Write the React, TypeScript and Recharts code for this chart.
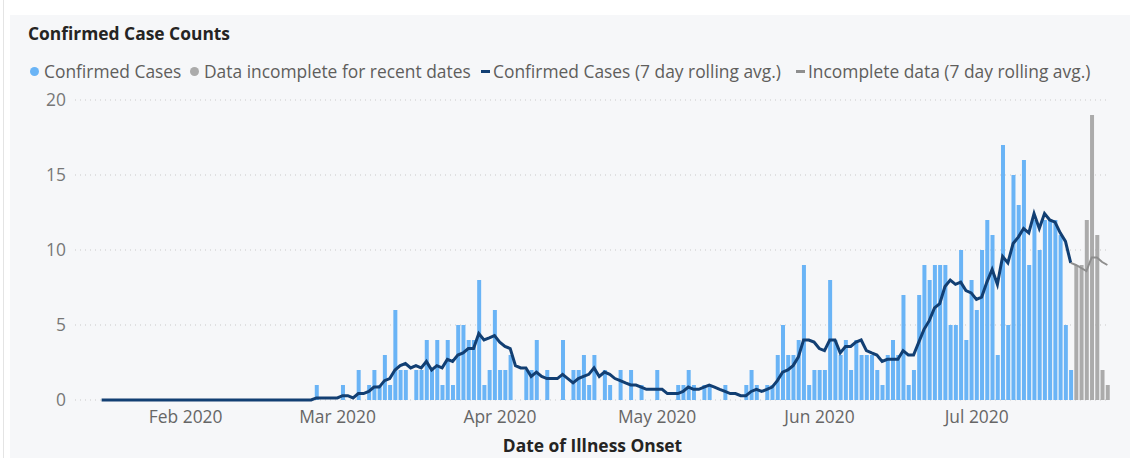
import React from 'react';
import { ComposedChart, Bar, Line, XAxis, YAxis, CartesianGrid } from 'recharts';

const startDate = '2020-01-15';
const dayCount = 193;

// Confirmed cases per day from 2020-01-15 through 2020-07-18
const confirmedCases = [
  0,
  0, 0, 0, 0, 0, 0, 0, 0, 0, 0,
  0, 0, 0, 0, 0, 0, 0, 0, 0, 0,
  0, 0, 0, 0, 0, 0, 0, 0, 0, 0,
  0, 0, 0, 0, 0, 0, 0, 0, 0, 0,
  1, 0, 0, 0, 0, 1, 0, 0, 2, 0,
  1, 2, 1, 3, 1, 6, 2, 2, 0, 2,
  2, 4, 2, 4, 1, 4, 1, 5, 5, 4,
  4, 8, 1, 2, 6, 2, 2, 3, 0, 0,
  2, 2, 4, 0, 2, 0, 0, 4, 0, 2,
  2, 3, 1, 3, 0, 2, 1, 0, 2, 0,
  2, 0, 1, 0, 0, 2, 0, 0, 0, 1,
  1, 2, 1, 0, 1, 1, 0, 0, 1, 0,
  0, 0, 1, 2, 1, 0, 1, 1, 3, 5,
  3, 3, 4, 9, 1, 2, 2, 2, 8, 4,
  3, 4, 2, 4, 3, 3, 3, 2, 1, 3,
  4, 3, 7, 1, 2, 7, 9, 8, 9, 9,
  9, 5, 5, 10, 4, 8, 6, 10, 12, 11,
  3, 17, 5, 15, 13, 16, 9, 12, 10, 12,
  12, 12, 11, 5, 2,
];

// Recent days with incomplete data (2020-07-19 .. 2020-07-25)
const incompleteStart = '2020-07-19';
const incompleteCases = [9, 9, 12, 19, 11, 2, 1];

// 7 day rolling average, 2020-01-15 .. 2020-07-18
const rollingAvg = [
  0,
  0, 0, 0, 0, 0, 0, 0, 0, 0, 0,
  0, 0, 0, 0, 0, 0, 0, 0, 0, 0,
  0, 0, 0, 0, 0, 0, 0, 0, 0, 0,
  0, 0, 0, 0, 0, 0, 0, 0, 0, 0,
  0.14, 0.14, 0.14, 0.14, 0.14, 0.29, 0.29, 0.14, 0.43, 0.43,
  0.57, 0.86, 0.86, 1.29, 1.43, 2.0, 2.29, 2.43, 2.14, 2.29,
  2.14, 2.57, 2.0, 2.29, 2.14, 2.71, 2.57, 3.0, 3.14, 3.43,
  3.43, 4.43, 4.0, 4.14, 4.29, 3.86, 3.57, 3.43, 2.29, 2.14,
  2.14, 1.57, 1.86, 1.57, 1.43, 1.43, 1.43, 1.71, 1.43, 1.14,
  1.43, 1.57, 1.71, 2.14, 1.57, 1.86, 1.71, 1.43, 1.29, 1.14,
  1.0, 1.0, 0.86, 0.71, 0.71, 0.71, 0.71, 0.43, 0.43, 0.43,
  0.57, 0.86, 0.71, 0.71, 0.86, 1.0, 0.86, 0.71, 0.57, 0.43,
  0.43, 0.29, 0.29, 0.57, 0.71, 0.57, 0.71, 0.86, 1.29, 1.86,
  2.0, 2.29, 2.86, 4.0, 4.0, 3.86, 3.43, 3.29, 4.0, 4.0,
  3.14, 3.57, 3.57, 3.86, 4.0, 3.29, 3.14, 3.0, 2.57, 2.71,
  2.71, 2.71, 3.29, 3.0, 3.0, 3.86, 4.71, 5.29, 6.14, 6.43,
  7.57, 8.0, 7.71, 7.86, 7.29, 7.14, 6.71, 6.86, 7.86, 8.71,
  7.71, 9.57, 9.14, 10.43, 10.86, 11.43, 11.14, 12.43, 11.43, 12.43,
  12.0, 11.86, 11.14, 10.57, 9.14,
];

// 7 day rolling average on incomplete data, 2020-07-18 .. 2020-07-25
const incompleteAvgStart = '2020-07-18';
const incompleteAvg = [9.14, 9.0, 8.8, 8.6, 9.5, 9.5, 9.2, 9.0];

const monthTicks = ['2020-02-01', '2020-03-01', '2020-04-01', '2020-05-01', '2020-06-01', '2020-07-01'];
const monthLabels = ['Feb 2020', 'Mar 2020', 'Apr 2020', 'May 2020', 'Jun 2020', 'Jul 2020'];
const yTicks = [0, 5, 10, 15, 20];

const FONT = '"Open Sans", "Noto Sans", sans-serif';
const FS = 17.4;
const BLUE = '#6AB4F6';
const NAVY = '#123F73';
const GRAY_BAR = '#ABABAB';
const GRAY_LINE = '#8E8E8E';

function dayString(i: number): string {
  const [y, m, d] = startDate.split('-').map(Number);
  return new Date(Date.UTC(y, m - 1, d + i)).toISOString().slice(0, 10);
}

const dates = Array.from({ length: dayCount }, (_, i) => dayString(i));
const incIdx = dates.indexOf(incompleteStart);
const incAvgIdx = dates.indexOf(incompleteAvgStart);

const rows = dates.map((date, i) => ({
  date,
  confirmed: i < confirmedCases.length ? confirmedCases[i] : null,
  incomplete: i >= incIdx && i - incIdx < incompleteCases.length ? incompleteCases[i - incIdx] : null,
  avg: i < rollingAvg.length ? rollingAvg[i] : null,
  incAvg: i >= incAvgIdx && i - incAvgIdx < incompleteAvg.length ? incompleteAvg[i - incAvgIdx] : null,
}));

const legendItems = [
  { label: 'Confirmed Cases', kind: 'dot', color: BLUE, left: 30 },
  { label: 'Data incomplete for recent dates', kind: 'dot', color: GRAY_BAR, left: 190 },
  { label: 'Confirmed Cases (7 day rolling avg.)', kind: 'dash', color: NAVY, left: 481 },
  { label: 'Incomplete data (7 day rolling avg.)', kind: 'dash', color: GRAY_LINE, left: 796 },
];

export default function App() {
  return (
    <div style={{ position: 'absolute', left: 0, top: 0, width: 1138, height: 458, background: '#FFFFFF', overflow: 'hidden', fontFamily: FONT }}>
      <div style={{ position: 'absolute', left: 3, top: 0, width: 1, height: 458, background: '#E4E4E4' }} />
      <div style={{ position: 'absolute', left: 10, top: 15, width: 1120, height: 443, background: '#F6F7F9' }} />
      <div style={{ position: 'absolute', left: 28, top: 21, fontSize: FS, lineHeight: '24px', fontWeight: 700, color: '#252423', whiteSpace: 'nowrap' }}>
        Confirmed Case Counts
      </div>
      {legendItems.map((it) => (
        <div key={it.label} style={{ position: 'absolute', left: it.left, top: 59, height: 24, display: 'flex', alignItems: 'center', whiteSpace: 'nowrap', fontSize: FS, color: '#605E5C' }}>
          {it.kind === 'dot' ? (
            <span style={{ display: 'inline-block', width: 9, height: 9, borderRadius: '50%', background: it.color, marginRight: 5 }} />
          ) : (
            <span style={{ display: 'inline-block', width: 9, height: 3, background: it.color, marginRight: 3 }} />
          )}
          <span>{it.label}</span>
        </div>
      ))}
      <div style={{ position: 'absolute', left: 0, top: 0 }}>
        <ComposedChart width={1138} height={458} data={rows} margin={{ top: 100, right: 28, bottom: 28, left: 15 }} barCategoryGap={1}>
          <CartesianGrid vertical={false} stroke="#C9C9C9" strokeDasharray="1 4" />
          <XAxis
            dataKey="date"
            ticks={monthTicks}
            interval={0}
            tickFormatter={(v: string) => monthLabels[monthTicks.indexOf(v)] ?? ''}
            axisLine={false}
            tickLine={false}
            tickSize={0}
            tickMargin={11}
            height={30}
            padding={{ left: 24, right: 0 }}
            tick={{ fill: '#666666', fontSize: FS, fontFamily: FONT, dx: -5 }}
          />
          <YAxis
            domain={[0, 20]}
            ticks={yTicks}
            interval={0}
            axisLine={false}
            tickLine={false}
            tickSize={0}
            tickMargin={9}
            width={60}
            tick={{ fill: '#777777', fontSize: FS, fontFamily: FONT }}
          />
          <Bar dataKey="confirmed" stackId="s" fill={BLUE} barSize={4} isAnimationActive={false} />
          <Bar dataKey="incomplete" stackId="s" fill={GRAY_BAR} barSize={4} isAnimationActive={false} />
          <Line type="linear" dataKey="avg" stroke={NAVY} strokeWidth={3} dot={false} activeDot={false} isAnimationActive={false} />
          <Line type="linear" dataKey="incAvg" stroke={GRAY_LINE} strokeWidth={2} dot={false} activeDot={false} isAnimationActive={false} />
        </ComposedChart>
      </div>
      <div style={{ position: 'absolute', left: 75, width: 1035, top: 433, lineHeight: '24px', textAlign: 'center', fontSize: FS, fontWeight: 700, color: '#252423', whiteSpace: 'nowrap' }}>
        Date of Illness Onset
      </div>
    </div>
  );
}
